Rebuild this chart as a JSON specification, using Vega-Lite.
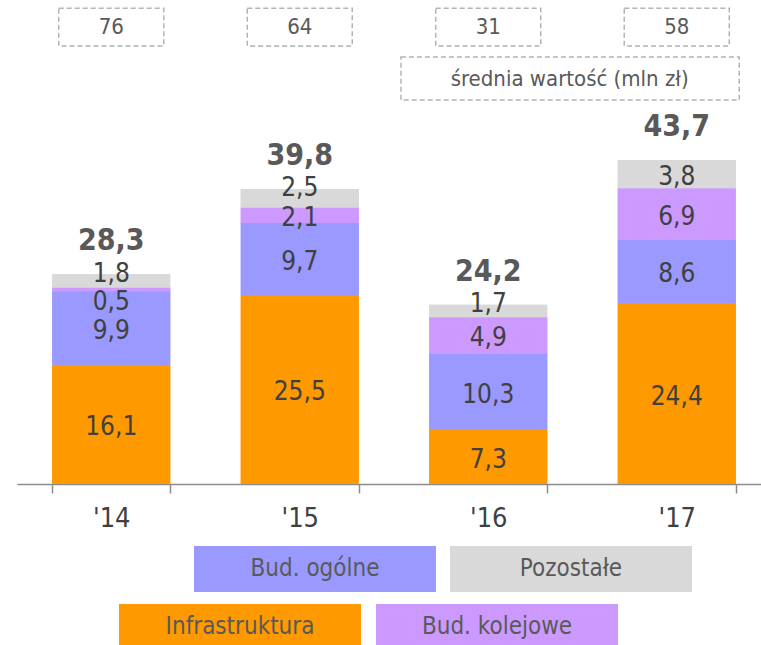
{
  "$schema": "https://vega.github.io/schema/vega-lite/v6.json",
  "width": 744,
  "height": 484,
  "autosize": {"type": "none"},
  "padding": {"left": 17, "top": 0, "right": 0, "bottom": 161},
  "config": {
    "view": {"stroke": null},
    "font": "DejaVu Sans Condensed, DejaVu Sans",
    "locale": {"number": {"decimal": ",", "thousands": " ", "grouping": [3], "currency": ["", " zł"]}},
    "legend": {
      "orient": "none",
      "direction": "horizontal",
      "columns": 2,
      "padding": 0,
      "title": null,
      "symbolType": "M-1,-0.19H1V0.19H-1Z",
      "symbolSize": 58564,
      "symbolStrokeWidth": 0,
      "symbolOpacity": 1,
      "labelAlign": "center",
      "labelOffset": -121,
      "labelFontSize": 24,
      "labelColor": "#595959",
      "labelLimit": 300
    }
  },
  "datasets": {
    "seg": [
      {"year": "'14", "series": "Infrastruktura", "value": 16.1},
      {"year": "'14", "series": "Bud. ogólne", "value": 9.9},
      {"year": "'14", "series": "Bud. kolejowe", "value": 0.5},
      {"year": "'14", "series": "Pozostałe", "value": 1.8},
      {"year": "'15", "series": "Infrastruktura", "value": 25.5},
      {"year": "'15", "series": "Bud. ogólne", "value": 9.7},
      {"year": "'15", "series": "Bud. kolejowe", "value": 2.1},
      {"year": "'15", "series": "Pozostałe", "value": 2.5},
      {"year": "'16", "series": "Infrastruktura", "value": 7.3},
      {"year": "'16", "series": "Bud. ogólne", "value": 10.3},
      {"year": "'16", "series": "Bud. kolejowe", "value": 4.9},
      {"year": "'16", "series": "Pozostałe", "value": 1.7},
      {"year": "'17", "series": "Infrastruktura", "value": 24.4},
      {"year": "'17", "series": "Bud. ogólne", "value": 8.6},
      {"year": "'17", "series": "Bud. kolejowe", "value": 6.9},
      {"year": "'17", "series": "Pozostałe", "value": 3.8}
    ],
    "years": [
      {"year": "'14", "total": 28.3, "avg": 76},
      {"year": "'15", "total": 39.8, "avg": 64},
      {"year": "'16", "total": 24.2, "avg": 31},
      {"year": "'17", "total": 43.7, "avg": 58}
    ]
  },
  "encoding": {
    "x": {
      "field": "year",
      "type": "nominal",
      "sort": ["'14", "'15", "'16", "'17"],
      "scale": {"range": [0, 754], "paddingInner": 0.374, "paddingOuter": 0.187},
      "axis": {
        "title": null,
        "labelAngle": 0,
        "labelFontSize": 27,
        "labelColor": "#404040",
        "labelPadding": 12,
        "tickBand": "extent",
        "tickSize": 9,
        "tickColor": "#8c8c8c",
        "tickWidth": 1.5,
        "domainColor": "#8c8c8c",
        "domainWidth": 1.5,
        "grid": false
      }
    }
  },
  "layer": [
    {
      "data": {"name": "seg"},
      "transform": [
        {"calculate": "indexof(['Infrastruktura','Bud. ogólne','Bud. kolejowe','Pozostałe'], datum.series)", "as": "ord"},
        {"stack": "value", "groupby": ["year"], "sort": [{"field": "ord", "order": "ascending"}], "as": ["v0", "v1"]},
        {"calculate": "datum.value < 1 ? datum.v0 - 1.4 : (datum.series == 'Pozostałe' && datum.value < 3 ? datum.v1 + 0.1 : (datum.v0 + datum.v1) / 2 - 0.4)", "as": "ly"}
      ],
      "resolve": {"scale": {"fill": "independent"}, "legend": {"fill": "independent"}},
      "layer": [
        {
          "mark": {"type": "bar", "strokeWidth": 0},
          "encoding": {
            "y": {"field": "v0", "type": "quantitative", "scale": {"domain": [0, 65.3], "nice": false, "zero": true}, "axis": null},
            "y2": {"field": "v1"},
            "fill": {
              "field": "series",
              "type": "nominal",
              "scale": {
                "domain": ["Bud. ogólne", "Pozostałe", "Infrastruktura", "Bud. kolejowe"],
                "range": ["#9999FF", "#D9D9D9", "#FF9900", "#CC99FF"]
              },
              "legend": {
                "values": ["Bud. ogólne", "Pozostałe"],
                "legendX": 177,
                "legendY": 448,
                "columnPadding": 14
              }
            }
          }
        },
        {
          "mark": {"type": "bar", "strokeWidth": 0},
          "encoding": {
            "y": {"field": "v0", "type": "quantitative"},
            "y2": {"field": "v1"},
            "fill": {
              "field": "series",
              "type": "nominal",
              "scale": {
                "domain": ["Infrastruktura", "Bud. kolejowe", "Bud. ogólne", "Pozostałe"],
                "range": ["#FF9900", "#CC99FF", "#9999FF", "#D9D9D9"]
              },
              "legend": {
                "values": ["Infrastruktura", "Bud. kolejowe"],
                "legendX": 102,
                "legendY": 506,
                "columnPadding": 15
              }
            }
          }
        },
        {
          "mark": {"type": "text", "fontSize": 26, "color": "#404040", "baseline": "middle"},
          "encoding": {
            "y": {"field": "ly", "type": "quantitative"},
            "text": {"field": "value", "type": "quantitative", "format": ".1f"}
          }
        }
      ]
    },
    {
      "data": {"name": "years"},
      "layer": [
        {
          "mark": {"type": "text", "fontSize": 30, "fontWeight": "bold", "color": "#595959", "baseline": "middle", "dy": -33},
          "encoding": {
            "y": {"field": "total", "type": "quantitative"},
            "text": {"field": "total", "type": "quantitative", "format": ".1f"}
          }
        },
        {
          "mark": {"type": "bar", "fillOpacity": 0, "stroke": "#b3b3b3", "strokeWidth": 1.5, "strokeDash": [5, 3], "width": {"band": 0.89}},
          "encoding": {
            "y": {"datum": 64.2, "type": "quantitative"},
            "y2": {"datum": 59.1}
          }
        },
        {
          "mark": {"type": "text", "fontSize": 22, "color": "#595959", "baseline": "middle"},
          "encoding": {
            "y": {"datum": 61.6, "type": "quantitative"},
            "text": {"field": "avg", "type": "quantitative"}
          }
        }
      ]
    },
    {
      "data": {"values": [{"label": "średnia wartość (mln zł)"}]},
      "layer": [
        {
          "mark": {"type": "rect", "fillOpacity": 0, "stroke": "#b3b3b3", "strokeWidth": 1.5, "strokeDash": [5, 3]},
          "encoding": {
            "x": {"datum": "'16", "bandPosition": -0.24},
            "x2": {"datum": "'17", "bandPosition": 1.03},
            "y": {"datum": 57.6, "type": "quantitative"},
            "y2": {"datum": 51.8}
          }
        },
        {
          "mark": {"type": "text", "fontSize": 22, "color": "#595959", "baseline": "middle"},
          "encoding": {
            "x": {"datum": "'16", "bandPosition": 1.19},
            "y": {"datum": 54.6, "type": "quantitative"},
            "text": {"field": "label"}
          }
        }
      ]
    }
  ]
}
